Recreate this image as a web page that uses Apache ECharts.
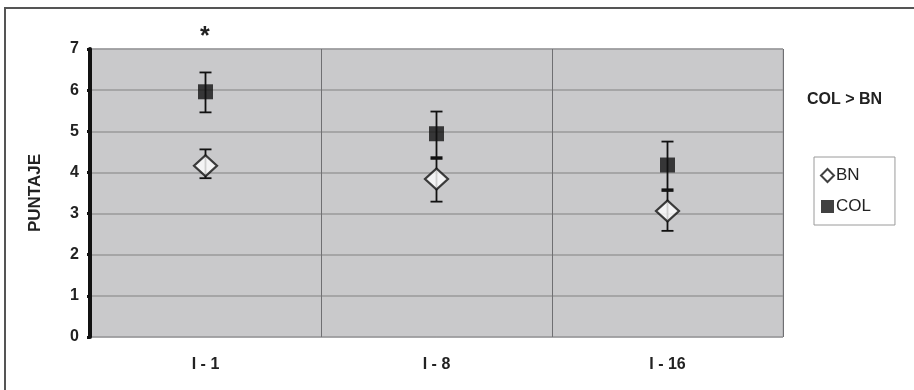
<!DOCTYPE html>
<html><head><meta charset="utf-8">
<script src="https://cdn.jsdelivr.net/npm/echarts@6/dist/echarts.min.js"></script>
<style>html,body{margin:0;padding:0;background:#fff}#c{width:914px;height:390px}</style>
</head><body><div id="c"></div>
<script>
var categories = ['I - 1', 'I - 8', 'I - 16'];
var yTicks = [0, 1, 2, 3, 4, 5, 6, 7];
var bnMean = [4.16, 3.84, 3.06];
var bnLow = [3.86, 3.29, 2.58];
var bnHigh = [4.56, 4.33, 3.55];
var colMean = [5.96, 4.94, 4.18];
var colLow = [5.46, 4.37, 3.59];
var colHigh = [6.43, 5.48, 4.75];

var font = '"Liberation Sans", Arial, sans-serif';
function errData(lo, hi) { return categories.map(function (c, i) { return [i, lo[i], hi[i]]; }); }
function errRender(params, api) {
  var x = api.value(0), lo = api.coord([x, api.value(1)]), hi = api.coord([x, api.value(2)]);
  var hw = 6;
  var st = { stroke: '#111', lineWidth: 1.8 };
  return { type: 'group', children: [
    { type: 'line', shape: { x1: lo[0], y1: lo[1], x2: hi[0], y2: hi[1] }, style: st },
    { type: 'line', shape: { x1: lo[0] - hw, y1: lo[1], x2: lo[0] + hw, y2: lo[1] }, style: st },
    { type: 'line', shape: { x1: hi[0] - hw, y1: hi[1], x2: hi[0] + hw, y2: hi[1] }, style: st }
  ]};
}
var chart = echarts.init(document.getElementById('c'));
chart.setOption({
  animation: false,
  backgroundColor: '#fff',
  grid: { left: 90, top: 49, width: 693, height: 288, show: true, backgroundColor: '#c9c9cb', borderColor: '#a9a9ab', borderWidth: 1 },
  xAxis: {
    type: 'category', data: categories, boundaryGap: true,
    axisLine: { show: false }, axisTick: { show: false },
    axisLabel: { margin: 20, fontFamily: font, fontWeight: 'bold', fontSize: 16, color: '#222' },
    splitLine: { show: true, lineStyle: { color: '#6f6f72', width: 1 } }
  },
  yAxis: {
    type: 'value', min: 0, max: 7, interval: 1,
    name: 'PUNTAJE', nameLocation: 'middle', nameGap: 46, nameRotate: 90,
    nameTextStyle: { fontFamily: font, fontWeight: 'bold', fontSize: 17, color: '#222' },
    axisLine: { show: true, lineStyle: { color: '#111', width: 4 } },
    axisTick: { show: true, length: 3, lineStyle: { color: '#111', width: 3 } },
    axisLabel: { margin: 11, fontFamily: font, fontWeight: 'bold', fontSize: 16, color: '#222',
      formatter: function (v) { return yTicks.indexOf(v) >= 0 ? String(v) : ''; } },
    splitLine: { show: true, lineStyle: { color: '#98989a', width: 1.5 } }
  },
  legend: {
    orient: 'vertical', left: 814, top: 157, width: 82,
    padding: [10, 24, 10, 6], itemGap: 14, itemWidth: 13, itemHeight: 13,
    borderColor: '#9a9a9a', borderWidth: 1,
    textStyle: { fontFamily: font, fontSize: 17, color: '#222', padding: [0, 0, 0, -3] },
    data: [
      { name: 'BN', icon: 'diamond', itemStyle: { color: '#fff', borderColor: '#111', borderWidth: 2 } },
      { name: 'COL', icon: 'rect', itemStyle: { color: '#111' } }
    ]
  },
  graphic: [
    { type: 'polyline', shape: { points: [[5, 400], [5, 8], [920, 8]] }, style: { stroke: '#555', lineWidth: 2, fill: null } },
    { type: 'text', left: 807, top: 92, style: { text: 'COL > BN', font: 'bold 16px ' + font, fill: '#222' } },
    { type: 'text', left: 200, top: 25, style: { text: '*', font: 'bold 25px ' + font, fill: '#222' } }
  ],
  series: [
    { type: 'custom', name: 'colErr', renderItem: errRender, data: errData(colLow, colHigh), z: 2, silent: true },
    { type: 'custom', name: 'bnErr', renderItem: errRender, data: errData(bnLow, bnHigh), z: 2, silent: true },
    { type: 'scatter', name: 'COL', data: colMean, symbol: 'rect', symbolSize: 15, itemStyle: { color: '#111' }, z: 3 },
    { type: 'scatter', name: 'BN', data: bnMean, symbol: 'diamond', symbolSize: [23, 21], itemStyle: { color: '#fff', borderColor: '#111', borderWidth: 2.2 }, z: 4 }
  ]
});
</script></body></html>
